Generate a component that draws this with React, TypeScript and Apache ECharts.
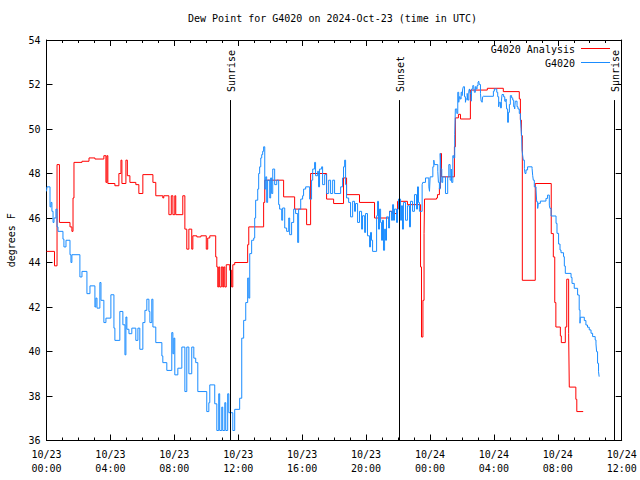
import React, { useEffect, useRef } from "react";
import * as echarts from "echarts";

// Hours since 2024-10-23 00:00 UTC
const analysisHours = [
  0, 0.5, 0.66, 0.81, 1.47, 1.59, 1.66, 1.72, 2.22, 2.66,
  3.03, 3.59, 3.72, 3.78, 3.84, 4.28, 4.53, 4.66, 4.72, 4.97,
  5.06, 5.22, 5.59, 5.78, 6.03, 6.66, 6.84, 7.28, 7.34, 7.66,
  7.81, 7.91, 8.03, 8.09, 8.53, 8.66, 8.78, 8.91, 9.09, 9.16,
  9.41, 9.66, 10.0, 10.09, 10.22, 10.59, 10.66, 10.72, 10.78, 10.84,
  10.94, 11.03, 11.09, 11.16, 11.25, 11.47, 11.59, 11.66, 11.78, 12.59,
  12.66, 13.59, 13.66, 14.84, 15.53, 16.28, 16.53, 17.53, 17.97, 18.59,
  18.78, 19.59, 20.53, 21.47, 21.66, 21.97, 22.59, 23.41, 23.47, 23.56,
  23.63, 23.66, 24.41, 24.47, 24.59, 24.66, 24.72, 25.53, 25.59, 25.78,
  25.91, 26.53, 27.59, 28.59, 29.59, 29.66, 29.72, 29.78, 30.59, 31.59,
  31.72, 31.81, 31.88, 32.16, 32.22, 32.47, 32.56, 32.68, 32.72, 33.13,
  33.19, 33.59,
];
const analysisValues = [
  44.5, 43.85, 48.4, 45.8, 45.6, 45.4, 46.9, 48.5, 48.55, 48.7,
  48.65, 48.8, 47.6, 48.8, 47.55, 47.45, 48.0, 48.6, 47.55, 48.6,
  47.9, 47.6, 47.5, 47.1, 47.95, 47.6, 47.0, 46.9, 47.0, 46.15,
  47.0, 46.15, 47.0, 46.15, 47.0, 45.5, 44.6, 45.5, 44.6, 45.2,
  45.15, 45.2, 44.6, 45.1, 45.2, 44.25, 43.8, 42.9, 43.8, 42.9,
  43.8, 42.9, 43.8, 42.9, 43.9, 43.65, 42.9, 43.9, 44.0, 44.8,
  45.6, 46.7, 47.7, 46.95, 46.4, 45.7, 48.0, 46.85, 46.65, 47.8,
  47.05, 46.7, 46.0, 46.3, 46.2, 46.75, 46.6, 43.8, 40.65, 42.3,
  45.3, 46.85, 46.9, 47.05, 47.35, 48.9, 47.85, 49.2, 50.5, 50.66,
  50.45, 51.75, 51.83, 51.68, 51.35, 50.4, 49.7, 43.2, 47.55, 45.3,
  44.25, 42.2, 41.1, 40.7, 40.4, 41.1, 43.25, 40.8, 38.4, 37.85,
  37.3, 37.3,
];

const stationHours = [
  0.0, 0.03, 0.22, 0.28, 0.34, 0.41, 0.47, 0.59, 0.66, 0.72,
  1.03, 1.09, 1.22, 1.47, 1.53, 1.59, 2.09, 2.22, 2.53, 2.72,
  3.03, 3.09, 3.16, 3.34, 3.41, 3.59, 3.72, 4.03, 4.22, 4.28,
  4.59, 4.78, 4.91, 4.97, 5.03, 5.16, 5.34, 5.59, 5.72, 5.84,
  6.03, 6.16, 6.28, 6.41, 6.47, 6.59, 6.66, 6.84, 7.22, 7.28,
  7.53, 7.84, 7.91, 7.97, 8.03, 8.22, 8.47, 8.66, 8.78, 8.91,
  9.09, 9.22, 9.34, 9.47, 10.03, 10.16, 10.22, 10.53, 10.66, 10.78,
  10.84, 10.97, 11.03, 11.16, 11.22, 11.34, 11.41, 11.66, 11.78, 12.09,
  12.22, 12.34, 12.47, 12.59, 12.66, 12.72, 12.84, 12.97, 13.03, 13.09,
  13.22, 13.28, 13.34, 13.41, 13.47, 13.53, 13.59, 13.66, 13.72, 13.78,
  13.84, 13.97, 14.03, 14.09, 14.16, 14.28, 14.41, 14.53, 14.59, 14.72,
  14.78, 14.91, 15.03, 15.16, 15.22, 15.34, 15.47, 15.59, 15.72, 15.78,
  15.91, 16.03, 16.09, 16.22, 16.47, 16.59, 16.66, 16.78, 16.84, 16.97,
  17.03, 17.09, 17.22, 17.28, 17.41, 17.53, 17.66, 17.78, 17.91, 18.03,
  18.41, 18.53, 18.59, 18.66, 18.72, 18.78, 18.91, 19.03, 19.16, 19.28,
  19.34, 19.47, 19.59, 19.72, 19.78, 19.91, 19.97, 20.09, 20.22, 20.28,
  20.34, 20.41, 20.66, 20.72, 20.78, 20.84, 20.91, 20.97, 21.03, 21.09,
  21.16, 21.22, 21.28, 21.41, 21.47, 21.59, 21.66, 21.72, 21.78, 21.91,
  21.97, 22.03, 22.16, 22.22, 22.28, 22.34, 22.47, 22.59, 22.72, 22.78,
  22.91, 23.03, 23.16, 23.22, 23.28, 23.34, 23.51, 23.55, 23.72, 23.93,
  23.97, 24.01, 24.18, 24.24, 24.28, 24.49, 24.53, 24.59, 24.64, 24.68,
  24.74, 24.8, 24.97, 25.11, 25.18, 25.26, 25.33, 25.36, 25.43, 25.49,
  25.55, 25.59, 25.68, 25.74, 25.8, 25.84, 25.89, 25.95, 26.01, 26.05,
  26.09, 26.16, 26.22, 26.26, 26.33, 26.36, 26.43, 26.47, 26.51, 26.58,
  26.61, 26.68, 26.74, 26.78, 26.84, 26.89, 26.95, 27.01, 27.05, 27.09,
  27.16, 27.2, 27.26, 27.3, 27.34, 27.97, 28.03, 28.18, 28.24, 28.3,
  28.34, 28.41, 28.47, 28.51, 28.61, 28.68, 28.76, 28.8, 28.86, 28.91,
  28.97, 29.03, 29.11, 29.18, 29.24, 29.3, 29.34, 29.45, 29.51, 29.59,
  29.66, 29.7, 29.74, 29.76, 29.8, 29.84, 29.91, 29.95, 30.01, 30.11,
  30.39, 30.43, 30.47, 30.53, 30.64, 30.68, 30.74, 30.78, 30.91, 31.26,
  31.36, 31.47, 31.51, 31.58, 31.89, 31.95, 32.05, 32.14, 32.2, 32.36,
  32.41, 32.47, 32.83, 32.89, 33.03, 33.24, 33.34, 33.39, 33.41, 33.66,
  33.76, 33.86, 33.97, 34.08, 34.18, 34.34, 34.39, 34.43, 34.49, 34.55,
  34.59,
];
const stationValues = [
  47.2, 47.4, 46.5, 46.7, 46.3, 45.8, 46.0, 46.4, 45.6, 45.4,
  45.05, 44.7, 45.0, 44.35, 44.0, 44.35, 43.35, 43.6, 42.6, 42.95,
  42.0, 42.4, 41.95, 43.1, 42.3, 41.3, 41.5, 42.55, 41.05, 40.5,
  41.8, 41.2, 39.85, 41.55, 41.0, 40.8, 41.05, 40.5, 41.05, 40.1,
  41.3, 41.85, 42.35, 41.8, 41.3, 42.35, 41.1, 40.4, 39.8, 39.5,
  39.15, 40.85, 39.9, 40.6, 38.95, 39.25, 40.2, 38.2, 40.2, 39.0,
  40.2, 39.7, 39.5, 38.2, 37.3, 37.7, 38.5, 37.65, 36.45, 38.1,
  36.45, 37.5, 36.45, 37.7, 36.45, 38.1, 37.25, 36.45, 37.4, 37.9,
  40.6, 41.4, 42.2, 43.3, 42.4, 44.4, 45.0, 45.1, 46.0, 46.8,
  47.3, 48.0, 48.3, 48.7, 48.85, 49.0, 49.2, 47.3, 47.85, 46.7,
  47.7, 46.9, 47.8, 47.1, 48.2, 47.5, 47.7, 46.6, 46.4, 45.9,
  46.45, 45.55, 45.4, 46.0, 45.25, 45.8, 46.4, 46.2, 44.9, 46.4,
  46.85, 47.0, 47.3, 47.4, 46.85, 47.7, 48.2, 48.5, 47.9, 48.1,
  47.4, 48.2, 48.3, 47.5, 47.95, 47.1, 47.7, 47.1, 47.7, 47.1,
  47.4, 47.8, 48.3, 48.6, 47.5, 46.9, 46.7, 46.05, 46.75, 46.3,
  46.65, 45.8, 46.3, 45.5, 46.1, 45.35, 46.2, 45.2, 44.7, 45.35,
  45.0, 44.5, 46.1, 46.75, 45.5, 46.4, 45.8, 45.0, 45.9, 44.55,
  45.5, 45.0, 46.05, 45.55, 46.3, 45.9, 46.6, 45.9, 46.4, 45.8,
  46.4, 46.85, 45.9, 46.55, 45.5, 46.7, 45.9, 46.55, 45.6, 46.75,
  46.3, 47.05, 46.4, 47.4, 46.7, 46.3, 47.5, 47.6, 47.8, 47.4,
  47.2, 47.85, 48.3, 48.6, 48.4, 48.1, 47.6, 47.3, 48.9, 48.2,
  47.6, 47.85, 47.1, 47.85, 48.4, 47.7, 48.2, 47.6, 48.8, 48.7,
  49.75, 50.9, 50.7, 51.65, 51.2, 51.45, 51.35, 51.65, 51.5, 51.8,
  51.9, 51.45, 51.2, 51.35, 51.6, 51.3, 51.7, 51.8, 51.6, 51.25,
  51.8, 51.95, 51.9, 51.65, 51.9, 51.8, 51.95, 52.1, 52.15, 52.0,
  51.6, 51.25, 51.2, 51.45, 51.47, 51.7, 51.8, 51.65, 51.45, 51.0,
  51.2, 50.95, 51.25, 51.55, 51.45, 51.25, 51.35, 50.9, 50.3, 50.75,
  51.1, 51.5, 51.4, 51.3, 51.0, 50.9, 51.25, 51.0, 50.9, 50.7,
  50.48, 50.03, 49.65, 49.06, 48.83, 48.6, 48.23, 48.0, 48.16, 48.3,
  48.23, 47.9, 47.7, 47.4, 47.26, 46.73, 46.43, 46.66, 46.76, 46.88,
  47.03, 46.58, 46.43, 46.09, 45.76, 45.31, 44.83, 44.56, 44.44, 44.26,
  43.84, 43.51, 43.33, 43.06, 42.84, 42.54, 41.87, 41.27, 41.54, 41.39,
  41.19, 41.09, 40.97, 40.82, 40.67, 40.52, 40.34, 39.99, 39.47, 39.09,
  38.87,
];

const sunEventNames = ["Sunrise", "Sunset", "Sunrise"];
const sunEventHours = [11.52, 22.08, 35.53];
const sunLineTop = 51.3;

const seriesNames = ["G4020 Analysis", "G4020"];
const seriesColors = ["#ff0000", "#1a8cff"];
const FONT = "DejaVu Sans Mono";

function xLabel(v: number): string {
  const day = 23 + Math.floor(v / 24);
  const hh = Math.round(v % 24);
  return `10/${day}\n${String(hh).padStart(2, "0")}:00`;
}

export default function App() {
  const ref = useRef<HTMLDivElement>(null);
  useEffect(() => {
    if (!ref.current) return;
    const chart = echarts.init(ref.current, undefined, { renderer: "svg" });
    const axisLine = { show: true, onZero: false, lineStyle: { color: "#000", width: 1 } };
    const labelStyle = { fontFamily: FONT, fontSize: 10, color: "#000" };
    const xBase = {
      type: "value",
      min: 0,
      max: 36,
      interval: 4,
      axisLine,
      axisTick: { show: true, inside: true, length: 6, lineStyle: { color: "#000" } },
      minorTick: { show: true, splitNumber: 4, length: 3, lineStyle: { color: "#000" } },
      splitLine: { show: false },
      minorSplitLine: { show: false },
    };
    const yBase = {
      type: "value",
      min: 36,
      max: 54,
      interval: 2,
      axisLine,
      axisTick: { show: true, inside: true, length: 6, lineStyle: { color: "#000" } },
      splitLine: { show: false },
    };
    chart.setOption({
      animation: false,
      backgroundColor: "#fff",
      textStyle: { fontFamily: FONT },
      title: {
        text: "Dew Point for G4020 on 2024-Oct-23 (time in UTC)",
        left: 188,
        top: 13,
        padding: 0,
        textStyle: { ...labelStyle, fontWeight: "normal" },
      },
      grid: {
        left: 46.5,
        right: 18.3,
        top: 40,
        bottom: 39.5,
        containLabel: false,
        outerBoundsMode: "none",
      },
      xAxis: [
        {
          ...xBase,
          position: "bottom",
          axisLabel: {
            ...labelStyle,
            margin: 7,
            lineHeight: 14,
            formatter: xLabel,
            showMinLabel: true,
            showMaxLabel: true,
          },
        },
        { ...xBase, position: "top", axisLabel: { show: false } },
      ],
      yAxis: [
        {
          ...yBase,
          position: "left",
          name: "degrees F",
          nameLocation: "middle",
          nameGap: 30,
          nameTextStyle: labelStyle,
          axisLabel: { ...labelStyle, margin: 6 },
        },
        { ...yBase, position: "right", axisLabel: { show: false } },
      ],
      series: [
        {
          name: seriesNames[0],
          type: "line",
          step: "end",
          symbol: "none",
          color: seriesColors[0],
          lineStyle: { color: seriesColors[0], width: 1 },
          data: analysisHours.map((h, i) => [h, analysisValues[i]]),
          markLine: {
            silent: true,
            symbol: ["none", "none"],
            label: { show: false },
            lineStyle: { color: "#000", width: 1, type: "solid" },
            data: sunEventHours.map((h) => [
              { coord: [h, sunLineTop] },
              { coord: [h, 36] },
            ]),
          },
          z: 2,
        },
        {
          name: seriesNames[1],
          type: "line",
          step: "end",
          symbol: "none",
          color: seriesColors[1],
          lineStyle: { color: seriesColors[1], width: 1 },
          data: stationHours.map((h, i) => [h, stationValues[i]]),
          z: 3,
        },
      ],
    });
    const sunLabels = sunEventHours.map((h, i) => {
      const p = chart.convertToPixel({ xAxisIndex: 0, yAxisIndex: 0 }, [h, sunLineTop]) as number[];
      return {
        type: "text",
        x: p[0] + 1,
        y: p[1] - 8,
        rotation: Math.PI / 2,
        style: {
          text: sunEventNames[i],
          align: "left",
          verticalAlign: "middle",
          fontFamily: FONT,
          fontSize: 10,
          fill: "#000",
        },
      };
    });
    const legendItems: any[] = [];
    seriesNames.forEach((name, i) => {
      const y = 48.5 + i * 14;
      legendItems.push({
        type: "text",
        x: 575,
        y: y + 0.5,
        style: {
          text: name,
          align: "right",
          verticalAlign: "middle",
          fontFamily: FONT,
          fontSize: 10,
          fill: "#000",
        },
      });
      legendItems.push({
        type: "line",
        shape: { x1: 581, y1: y, x2: 610, y2: y },
        style: { stroke: seriesColors[i], lineWidth: 1 },
      });
    });
    chart.setOption({ graphic: [...sunLabels, ...legendItems] });
    return () => chart.dispose();
  }, []);
  return (
    <div
      ref={ref}
      style={{ position: "fixed", left: 0, top: 0, width: 640, height: 480 }}
    />
  );
}
